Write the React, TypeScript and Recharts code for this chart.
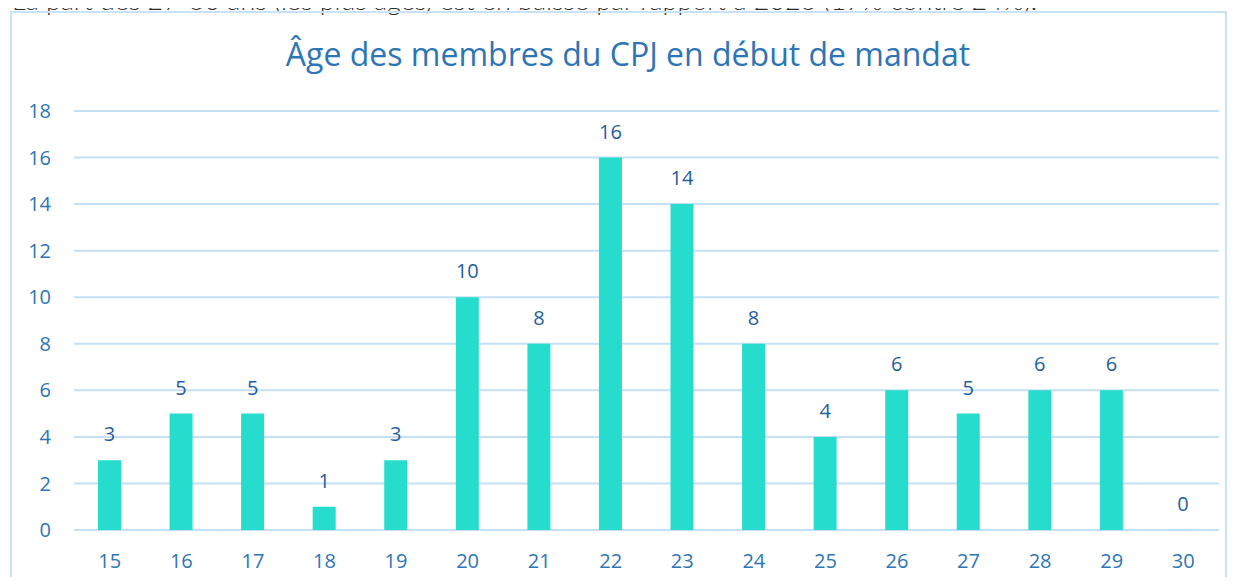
import React from 'react';
import { BarChart, Bar, XAxis, YAxis, CartesianGrid, LabelList } from 'recharts';

const ages = ['15', '16', '17', '18', '19', '20', '21', '22', '23', '24', '25', '26', '27', '28', '29', '30'];
const counts = [3, 5, 5, 1, 3, 10, 8, 16, 14, 8, 4, 6, 5, 6, 6, 0];
const yTicks = [0, 2, 4, 6, 8, 10, 12, 14, 16, 18];
const title = 'Âge des membres du CPJ en début de mandat';
const caption = 'La part des 27-30 ans (les plus âgés) est en baisse par rapport à 2023 (17% contre 24%).';

const data = ages.map((a, i) => ({ age: a, value: counts[i] }));

const font = 'Open Sans, Lato, sans-serif';

export default function App() {
  return (
    <div style={{ position: 'relative', width: 1237, height: 585, margin: -8, overflow: 'hidden', background: '#fff' }}>
      <svg style={{ position: 'absolute', left: 0, top: 0 }} width={1237} height={20}>
        <text x={12} y={10} fontFamily="Lato, sans-serif" fontWeight={300} fontSize={26} fill="#2a2a2a" textLength={1025} lengthAdjust="spacingAndGlyphs">
          {caption}
        </text>
      </svg>
      <div style={{ position: 'absolute', left: 10, top: 11, width: 1217, height: 600, border: '2px solid #C9E2F6', boxSizing: 'border-box' }} />
      <div style={{ position: 'absolute', left: 0, top: 32, width: 1256, textAlign: 'center', fontFamily: font, fontSize: 32, color: '#2E75B6' }}>
        {title}
      </div>
      <div style={{ position: 'absolute', left: 0, top: 0 }}>
        <BarChart width={1237} height={585} data={data} margin={{ top: 111, right: 18, bottom: 25, left: 24 }}>
          <CartesianGrid vertical={false} stroke="#C5E0F5" strokeWidth={2} />
          <XAxis dataKey="age" axisLine={false} tickLine={false} tickMargin={18} height={30}
            tick={{ fill: '#2E75B6', fontSize: 20, fontFamily: font }} interval={0} />
          <YAxis domain={[0, 18]} ticks={yTicks} axisLine={false} tickLine={false} width={50} tickMargin={17}
            tick={{ fill: '#2E75B6', fontSize: 20, fontFamily: font }} />
          <Bar dataKey="value" fill="#26DCCC" barSize={23} minPointSize={0.1} isAnimationActive={false}>
            <LabelList dataKey="value" position="top" offset={19} fill="#1F5E9C" fontSize={20} fontFamily={font} />
          </Bar>
        </BarChart>
      </div>
    </div>
  );
}
